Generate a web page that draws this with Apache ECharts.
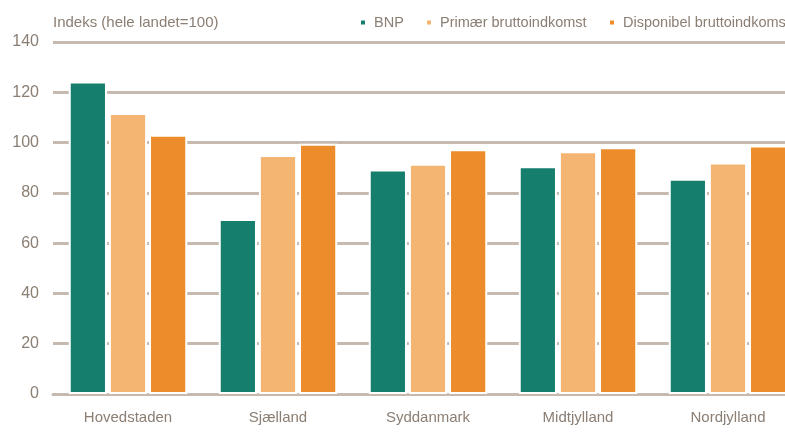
<!DOCTYPE html>
<html>
<head>
<meta charset="utf-8">
<script src="https://cdn.jsdelivr.net/npm/echarts@6/dist/echarts.min.js"></script>
<style>html,body{margin:0;padding:0;background:#fff}#c{width:785px;height:434px}</style>
</head>
<body>
<div id="c"></div>
<script>
const categories = ['Hovedstaden', 'Sjælland', 'Syddanmark', 'Midtjylland', 'Nordjylland'];
const seriesNames = ['BNP', 'Primær bruttoindkomst', 'Disponibel bruttoindkomst'];
const bnp = [124.3, 69.6, 89.3, 90.6, 85.6];
const primaer = [111.8, 95.1, 91.6, 96.5, 92.1];
const disponibel = [103.1, 99.5, 97.3, 98.1, 98.8];
const yTicks = [0, 20, 40, 60, 80, 100, 120, 140];
const colors = ['#167e6c', '#f5b572', '#ed8c2b'];
const font = "'Liberation Sans', Arial, sans-serif";
const textColor = '#8b7e73';
const gridColor = '#c6bab0';

const chart = echarts.init(document.getElementById('c'), null, {renderer: 'canvas'});
const legendLefts = [359, 425, 608];
chart.setOption({
  animation: false,
  textStyle: {fontFamily: font},
  title: {
    text: 'Indeks (hele landet=100)',
    left: 53, top: 15, padding: 0,
    textStyle: {fontFamily: font, fontSize: 15, fontWeight: 'normal', color: textColor}
  },
  legend: seriesNames.map((n, i) => ({
    data: [n], left: legendLefts[i], top: 15, padding: 0,
    icon: 'rect', itemWidth: 6, itemHeight: 6,
    textStyle: {fontFamily: font, fontSize: 14.5, color: textColor, padding: [0, 0, 0, 3]}
  })),
  grid: {left: 53, top: 42, width: 750, height: 352, containLabel: false, outerBoundsMode: 'none'},
  xAxis: {
    type: 'category', data: categories,
    axisTick: {show: false},
    axisLine: {show: true, lineStyle: {color: gridColor, width: 3}},
    axisLabel: {fontFamily: font, fontSize: 15, color: textColor, margin: 16}
  },
  yAxis: {
    type: 'value', min: yTicks[0], max: yTicks[yTicks.length - 1], interval: 20,
    axisLine: {show: false}, axisTick: {show: false},
    axisLabel: {fontFamily: font, fontSize: 16, color: textColor, margin: 14},
    splitLine: {show: true, lineStyle: {color: gridColor, width: 3}}
  },
  series: [bnp, primaer, disponibel].map((d, i) => ({
    name: seriesNames[i], type: 'bar', data: d,
    barCategoryGap: '21%', barGap: '5%',
    itemStyle: {color: colors[i], borderColor: '#fff', borderWidth: 2}
  }))
});
</script>
</body>
</html>
